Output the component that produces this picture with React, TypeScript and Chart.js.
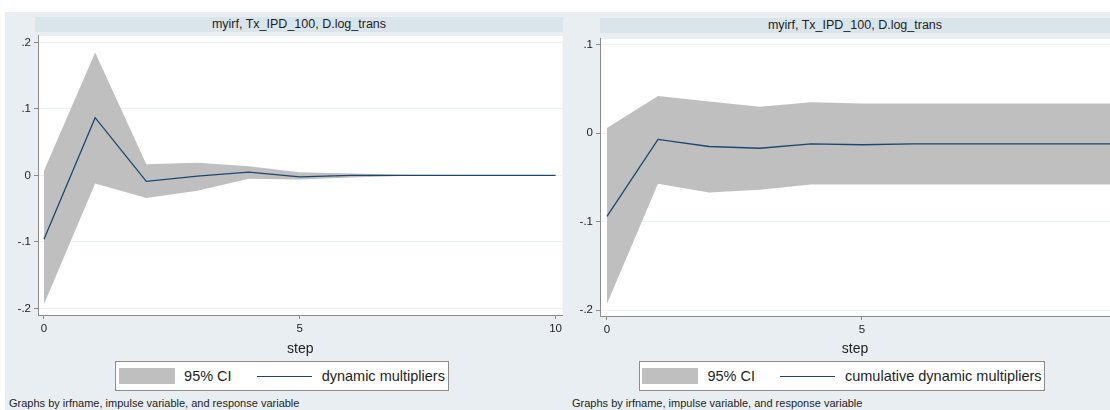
import React, { useEffect, useRef } from 'react';
import { Chart, registerables } from 'chart.js';

Chart.register(...registerables);

// ---------- data ----------
const steps = [0, 1, 2, 3, 4, 5, 6, 7, 8, 9, 10];

// dynamic multipliers (left panel)
const dmIrf = [-0.096, 0.087, -0.009, -0.001, 0.005, -0.002, 0.0, 0.0, 0.0, 0.0, 0.0];
const dmUpper = [0.007, 0.185, 0.017, 0.019, 0.014, 0.005, 0.003, 0.001, 0.0005, 0.0003, 0.0002];
const dmLower = [-0.194, -0.012, -0.034, -0.023, -0.005, -0.006, -0.003, -0.001, -0.0005, -0.0003, -0.0002];

// cumulative dynamic multipliers (right panel)
const cdmIrf = [-0.094, -0.007, -0.015, -0.017, -0.012, -0.013, -0.012, -0.012, -0.012, -0.012, -0.012];
const cdmUpper = [0.006, 0.042, 0.036, 0.030, 0.035, 0.0335, 0.0335, 0.0335, 0.0335, 0.0335, 0.0335];
const cdmLower = [-0.193, -0.057, -0.067, -0.064, -0.058, -0.058, -0.058, -0.058, -0.058, -0.058, -0.058];

const leftYTicks = [-0.2, -0.1, 0, 0.1, 0.2];
const leftYLabels = ['-.2', '-.1', '0', '.1', '.2'];
const rightYTicks = [-0.2, -0.1, 0, 0.1];
const rightYLabels = ['-.2', '-.1', '0', '.1'];
const leftXTicks = [0, 5, 10];
const rightXTicks = [0, 5];

const panelTitle = 'myirf, Tx_IPD_100, D.log_trans';
const xTitle = 'step';
const ciLabel = '95% CI';
const leftSeriesLabel = 'dynamic multipliers';
const rightSeriesLabel = 'cumulative dynamic multipliers';
const footnote = 'Graphs by irfname, impulse variable, and response variable';

// ---------- styles ----------
const FONT = '"Liberation Sans", Arial, Helvetica, sans-serif';
const BG = '#e8eef1';
const BAR = '#d9e4eb';
const CI = '#bfbfbf';
const LINE = '#1a476f';
const AXIS = '#8a8a8a';
const GRID = '#eaf1f3';
const TEXT = '#1e1e1e';

type PanelCfg = {
  steps: number[];
  irf: number[];
  upper: number[];
  lower: number[];
  yTicks: number[];
  yLabels: string[];
  xTicks: number[];
  xMin: number;
  xMax: number;
  yMin: number;
  yMax: number;
  canvas: { left: number; top: number; width: number; height: number };
  padTop: number;
  padRight: number;
  yAxisWidth: number;
  xAxisHeight: number;
};

const whiteArea = {
  id: 'whiteArea',
  beforeDraw(chart: any) {
    const { ctx, chartArea } = chart;
    ctx.save();
    ctx.fillStyle = '#ffffff';
    ctx.fillRect(chartArea.left, chartArea.top, chartArea.right - chartArea.left, chartArea.bottom - chartArea.top);
    ctx.restore();
  },
};

function PanelChart({ cfg }: { cfg: PanelCfg }) {
  const ref = useRef<HTMLCanvasElement | null>(null);
  useEffect(() => {
    if (!ref.current) return;
    const pts = (arr: number[]) => cfg.steps.map((s, i) => ({ x: s, y: arr[i] }));
    const chart = new Chart(ref.current, {
      type: 'line',
      data: {
        datasets: [
          {
            label: 'upper',
            data: pts(cfg.upper),
            borderColor: 'rgba(0,0,0,0)',
            borderWidth: 0,
            backgroundColor: CI,
            pointRadius: 0,
            fill: '+1',
            tension: 0,
            order: 2,
          },
          {
            label: 'lower',
            data: pts(cfg.lower),
            borderColor: 'rgba(0,0,0,0)',
            borderWidth: 0,
            backgroundColor: CI,
            pointRadius: 0,
            fill: false,
            tension: 0,
            order: 3,
          },
          {
            label: 'irf',
            data: pts(cfg.irf),
            borderColor: LINE,
            borderWidth: 1.3,
            pointRadius: 0,
            fill: false,
            tension: 0,
            order: 0,
          },
        ],
      },
      options: {
        animation: false,
        responsive: false,
        maintainAspectRatio: false,
        events: [],
        layout: { padding: { top: cfg.padTop, right: cfg.padRight, left: 0, bottom: 0 } },
        plugins: {
          legend: { display: false },
          tooltip: { enabled: false },
          title: { display: false },
          filler: { drawTime: 'beforeDatasetsDraw' },
        },
        scales: {
          x: {
            type: 'linear',
            min: cfg.xMin,
            max: cfg.xMax,
            afterBuildTicks: (s: any) => {
              s.ticks = cfg.xTicks.map((v) => ({ value: v }));
            },
            afterFit: (s: any) => {
              s.height = cfg.xAxisHeight;
            },
            grid: { drawOnChartArea: false, drawTicks: true, tickLength: 4, tickColor: AXIS, color: AXIS },
            border: { display: true, color: AXIS, width: 1 },
            ticks: {
              maxRotation: 0,
              autoSkip: false,
              padding: 3,
              color: TEXT,
              font: { family: FONT, size: 11.5 },
              callback: (v: any) => String(v),
            },
            title: {
              display: true,
              text: xTitle,
              color: TEXT,
              font: { family: FONT, size: 14 },
              padding: { top: 0, bottom: 0 },
            },
          },
          y: {
            type: 'linear',
            min: cfg.yMin,
            max: cfg.yMax,
            afterBuildTicks: (s: any) => {
              s.ticks = cfg.yTicks.map((v) => ({ value: v }));
            },
            afterFit: (s: any) => {
              s.width = cfg.yAxisWidth;
            },
            grid: { drawOnChartArea: true, drawTicks: true, tickLength: 4, tickColor: AXIS, color: GRID, lineWidth: 1 },
            border: { display: true, color: AXIS, width: 1 },
            ticks: {
              padding: 3,
              color: TEXT,
              font: { family: FONT, size: 11.5 },
              callback: (v: any) => {
                const idx = cfg.yTicks.findIndex((t) => Math.abs(t - v) < 1e-9);
                return idx >= 0 ? cfg.yLabels[idx] : '';
              },
            },
          },
        },
      },
      plugins: [whiteArea],
    } as any);
    return () => chart.destroy();
  }, [cfg]);
  const c = cfg.canvas;
  return (
    <canvas
      ref={ref}
      width={c.width}
      height={c.height}
      style={{ position: 'absolute', left: c.left, top: c.top, width: c.width, height: c.height }}
    />
  );
}

function Legend({ left, top, width, label }: { left: number; top: number; width: number; label: string }) {
  return (
    <div
      style={{
        position: 'absolute',
        left,
        top,
        width,
        height: 30,
        boxSizing: 'border-box',
        border: '1px solid #8c8c8c',
        background: '#ffffff',
        display: 'flex',
        alignItems: 'center',
        justifyContent: 'center',
        fontFamily: FONT,
        fontSize: 14.5,
        color: TEXT,
        whiteSpace: 'nowrap',
      }}
    >
      <div style={{ width: 56, height: 16, background: CI, marginRight: 9 }} />
      <span>{ciLabel}</span>
      <div style={{ width: 55, height: 0, borderTop: `1.3px solid ${LINE}`, marginLeft: 25, marginRight: 10 }} />
      <span>{label}</span>
    </div>
  );
}

const leftCfg: PanelCfg = {
  steps,
  irf: dmIrf,
  upper: dmUpper,
  lower: dmLower,
  yTicks: leftYTicks,
  yLabels: leftYLabels,
  xTicks: leftXTicks,
  xMin: -0.117,
  xMax: 10.137,
  yMin: -0.21,
  yMax: 0.21,
  canvas: { left: 0, top: 26, width: 565, height: 332 },
  padTop: 6,
  padRight: 2,
  yAxisWidth: 38,
  xAxisHeight: 43,
};

const rightCfg: PanelCfg = {
  steps,
  irf: cdmIrf,
  upper: cdmUpper,
  lower: cdmLower,
  yTicks: rightYTicks,
  yLabels: rightYLabels,
  xTicks: rightXTicks,
  xMin: -0.137,
  xMax: 9.863,
  yMin: -0.2067,
  yMax: 0.1067,
  canvas: { left: 566, top: 29, width: 544, height: 329 },
  padTop: 6,
  padRight: 0,
  yAxisWidth: 34,
  xAxisHeight: 42,
};

function TitleBar({ left, top, width }: { left: number; top: number; width: number }) {
  return (
    <div
      style={{
        position: 'absolute',
        left,
        top,
        width,
        height: 15,
        background: BAR,
        fontFamily: FONT,
        fontSize: 12.5,
        lineHeight: '15px',
        color: TEXT,
        textAlign: 'center',
        whiteSpace: 'nowrap',
      }}
    >
      {panelTitle}
    </div>
  );
}

function Footnote({ left }: { left: number }) {
  return (
    <div
      style={{
        position: 'absolute',
        left,
        top: 396,
        fontFamily: FONT,
        fontSize: 11,
        lineHeight: '14px',
        color: TEXT,
        whiteSpace: 'nowrap',
      }}
    >
      {footnote}
    </div>
  );
}

export default function App() {
  return (
    <div style={{ position: 'absolute', left: 0, top: 0, width: 1110, height: 410, background: '#ffffff', overflow: 'hidden' }}>
      <div style={{ position: 'absolute', left: 5, top: 12, width: 1105, height: 398, background: BG }} />
      <TitleBar left={35} top={17} width={528} />
      <TitleBar left={600} top={18} width={510} />
      <PanelChart cfg={leftCfg} />
      <PanelChart cfg={rightCfg} />
      <Legend left={115} top={361} width={334} label={leftSeriesLabel} />
      <Legend left={639} top={361} width={406} label={rightSeriesLabel} />
      <Footnote left={9} />
      <Footnote left={572} />
    </div>
  );
}
